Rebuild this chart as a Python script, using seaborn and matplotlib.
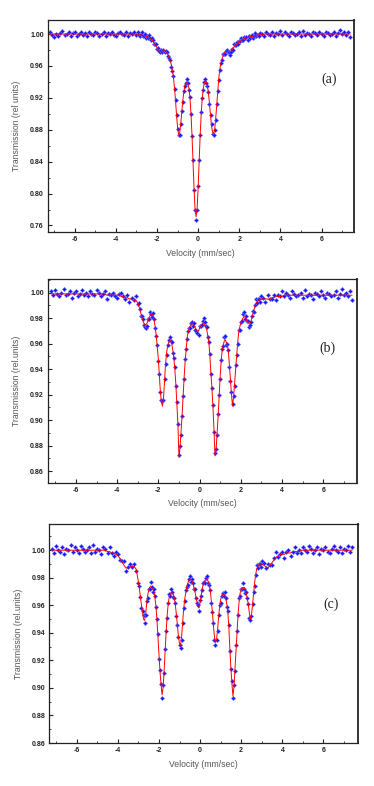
import numpy as np
import pandas as pd
import matplotlib
matplotlib.use("Agg")
import matplotlib.pyplot as plt
import seaborn as sns
from matplotlib.ticker import MultipleLocator, FormatStrFormatter

# velocity channels (mm/s): 0.1 steps in the flat wings, 0.05 steps across the lines
vel = np.concatenate([np.arange(-72, -30) / 10, np.arange(-60, 61) / 20, np.arange(31, 75) / 10])

# transmission values in per-mille (1000 = 1.00)
fit_a = [
    1000, 1000, 1000, 1000, 1000, 1000, 1000, 1000, 1000, 1000,
    1000, 1000, 1000, 1000, 1000, 1000, 1000, 1000, 1000, 1000,
    1000, 1000, 1000, 1000, 1000, 1000, 1000, 1000, 1000, 1000,
    1000, 1000, 1000, 1000, 1000, 1000, 1000, 1000, 1000, 1000,
    1000, 1000,
    1000, 1000, 999, 999, 999, 999, 998, 998, 998, 997,
    997, 996, 996, 995, 994, 993, 991, 989, 987, 985,
    983, 981, 979, 978, 978, 978, 979, 979, 979, 978,
    976, 973, 970, 966, 961, 954, 945, 932, 916, 898,
    882, 874, 876, 887, 902, 916, 927, 935, 939, 940,
    938, 932, 920, 900, 873, 840, 806, 780, 771, 782,
    808, 842, 875, 901, 920, 932, 939, 941, 940, 935,
    926, 913, 898, 885, 877, 875, 880, 893, 910, 928,
    944, 955, 963, 968, 972, 975, 977, 978, 978, 978,
    978, 978, 979, 980, 982, 984, 986, 987, 988, 989,
    990, 991, 992, 993, 994, 994, 995, 995, 996, 996,
    996, 997, 997, 997, 998, 998, 998, 998, 999, 999,
    999,
    999, 1000, 1000, 1000, 1000, 1000, 1000, 1000, 1000, 1000,
    1000, 1000, 1000, 1000, 1000, 1000, 1000, 1000, 1000, 1000,
    1000, 1000, 1000, 1000, 1000, 1000, 1000, 1000, 1000, 1000,
    1000, 1000, 1000, 1000, 1000, 1000, 1000, 1000, 1000, 1000,
    1000, 1000, 1000, 1000,
]
obs_a = [
    1002, 999, 996, 1000, 998, 1001, 1004, 999, 1000, 1002,
    997, 1001, 1002, 998, 1000, 1003, 999, 1001, 998, 1002,
    1000, 999, 1003, 1001, 998, 1000, 1002, 997, 1001, 1000,
    1002, 999, 998, 1001, 1003, 1000, 999, 1002, 998, 1001,
    1000, 1003,
    999, 1002, 999, 997, 1000, 1002, 997, 998, 1000, 995,
    998, 995, 999, 995, 992, 995, 992, 988, 987, 987,
    981, 982, 979, 977, 980, 977, 980, 979, 977, 979,
    978, 972, 970, 967, 959, 954, 947, 931, 917, 898,
    881, 873, 874, 887, 903, 915, 929, 935, 938, 944,
    938, 930, 921, 900, 872, 842, 805, 780, 767, 779,
    810, 842, 874, 902, 920, 930, 940, 943, 939, 935,
    927, 912, 898, 887, 875, 874, 880, 892, 912, 929,
    942, 955, 964, 967, 975, 975, 975, 979, 980, 977,
    978, 974, 978, 981, 980, 987, 986, 986, 990, 987,
    991, 991, 995, 992, 992, 996, 995, 996, 993, 998,
    995, 998, 999, 995, 998, 1001, 997, 999, 999, 997,
    1001,
    1000, 998, 1003, 1000, 999, 1002, 997, 1001, 1000, 1004,
    999, 1002, 1000, 998, 1003, 1001, 999, 1000, 1002, 998,
    1004, 999, 1001, 1000, 997, 1002, 1001, 999, 1003, 1000,
    998, 1002, 1001, 999, 1000, 1003, 998, 1001, 1005, 1000,
    1002, 999, 1003, 996,
]

fit_b = [
    999, 999, 999, 999, 999, 999, 999, 999, 999, 999,
    999, 999, 999, 999, 999, 999, 999, 999, 999, 999,
    999, 999, 999, 999, 999, 999, 999, 998, 998, 998,
    998, 998, 998, 998, 997, 997, 996, 996, 995, 995,
    994, 994,
    992, 990, 987, 984, 981, 978, 976, 975, 975, 976,
    978, 980, 982, 983, 983, 982, 978, 973, 966, 957,
    948, 935, 922, 914, 911, 917, 931, 944, 953, 958,
    961, 963, 962, 960, 955, 949, 940, 928, 913, 897,
    871, 878, 890, 903, 918, 933, 946, 956, 965, 969,
    972, 974, 975, 976, 975, 974, 972, 971, 970, 970,
    972, 974, 975, 976, 976, 975, 973, 971, 966, 961,
    951, 937, 925, 910, 893, 872, 876, 889, 903, 919,
    934, 947, 955, 959, 962, 963, 961, 959, 953, 943,
    931, 920, 911, 918, 929, 940, 951, 961, 969, 973,
    976, 978, 980, 981, 981, 980, 978, 977, 976, 976,
    978, 981, 984, 987, 990, 992, 993, 994, 995, 995,
    995,
    995, 995, 995, 995, 996, 996, 997, 997, 997, 997,
    998, 998, 998, 998, 998, 998, 998, 998, 998, 998,
    998, 998, 998, 998, 998, 998, 998, 998, 998, 998,
    998, 998, 998, 998, 998, 998, 998, 998, 998, 998,
    998, 998, 998, 998,
]
obs_b = [
    1001, 998, 1002, 999, 997, 1000, 1003, 998, 999, 1001,
    996, 1000, 1001, 997, 999, 1002, 998, 1000, 997, 1001,
    999, 998, 1002, 1000, 997, 999, 1001, 995, 999, 998,
    1000, 997, 996, 999, 1000, 997, 995, 998, 993, 996,
    994, 997,
    991, 992, 987, 982, 982, 979, 975, 973, 972, 974,
    979, 979, 985, 983, 981, 984, 979, 972, 966, 959,
    946, 936, 922, 916, 915, 916, 932, 944, 951, 959,
    963, 965, 962, 961, 953, 949, 942, 927, 914, 897,
    873, 880, 888, 903, 919, 932, 948, 956, 964, 970,
    972, 972, 976, 977, 974, 976, 971, 970, 968, 967,
    974, 974, 975, 978, 980, 977, 974, 973, 965, 961,
    952, 936, 925, 912, 891, 874, 877, 888, 905, 920,
    932, 947, 956, 958, 965, 966, 959, 960, 955, 942,
    931, 922, 913, 919, 927, 943, 951, 960, 971, 971,
    977, 978, 983, 985, 979, 982, 978, 978, 973, 975,
    977, 982, 986, 985, 990, 995, 992, 995, 995, 993,
    997,
    996, 993, 998, 995, 995, 998, 994, 998, 997, 1001,
    997, 1000, 998, 996, 1001, 999, 997, 998, 1000, 996,
    1002, 997, 999, 998, 995, 1000, 999, 997, 1001, 998,
    996, 1000, 999, 997, 998, 1001, 996, 999, 1003, 998,
    1000, 997, 1001, 994,
]

fit_c = [
    1000, 1000, 1000, 1000, 1000, 1000, 1000, 1000, 1000, 1000,
    1000, 1000, 1000, 1000, 1000, 1000, 1000, 1000, 1000, 1000,
    1000, 1000, 1000, 1000, 1000, 1000, 1000, 999, 999, 998,
    998, 997, 996, 994, 992, 989, 987, 987, 988, 988,
    988, 986,
    977, 972, 966, 960, 955, 950, 949, 953, 961, 967,
    971, 973, 974, 973, 972, 970, 966, 960, 950, 937,
    923, 912, 903, 895, 900, 912, 927, 941, 953, 961,
    966, 968, 969, 969, 968, 965, 960, 953, 945, 937,
    932, 931, 937, 947, 957, 964, 969, 973, 976, 978,
    979, 979, 978, 976, 973, 970, 966, 962, 959, 958,
    962, 967, 972, 975, 977, 978, 979, 979, 977, 975,
    970, 963, 955, 945, 937, 933, 935, 942, 951, 959,
    964, 967, 968, 968, 967, 965, 961, 955, 944, 928,
    914, 903, 894, 901, 914, 928, 941, 954, 963, 969,
    971, 972, 973, 973, 971, 968, 965, 960, 954, 950,
    953, 960, 968, 976, 982, 986, 988, 989, 990, 990,
    990,
    989, 988, 987, 989, 991, 993, 995, 996, 997, 997,
    997, 998, 998, 998, 999, 999, 999, 999, 1000, 1000,
    1000, 1000, 1000, 1000, 1000, 1000, 1000, 1000, 1000, 1000,
    1000, 1000, 1000, 1000, 1000, 1000, 1000, 1000, 1000, 1000,
    1000, 1000, 1000, 1000,
]
obs_c = [
    1001, 998, 1003, 1000, 999, 1002, 997, 1001, 1000, 1004,
    999, 1002, 1000, 998, 1003, 1001, 999, 1000, 1002, 998,
    1004, 999, 1001, 1000, 997, 1002, 1001, 998, 1002, 998,
    996, 999, 997, 993, 992, 992, 985, 988, 990, 988,
    990, 985,
    976, 974, 966, 958, 956, 953, 947, 953, 963, 965,
    972, 972, 977, 973, 970, 972, 967, 959, 950, 939,
    921, 913, 903, 893, 902, 911, 928, 941, 951, 962,
    968, 967, 972, 970, 966, 965, 962, 952, 946, 937,
    931, 929, 935, 947, 958, 963, 971, 973, 975, 979,
    981, 977, 979, 976, 972, 972, 965, 962, 960, 956,
    964, 967, 971, 976, 977, 976, 980, 981, 976, 975,
    971, 962, 955, 947, 935, 931, 935, 941, 953, 960,
    962, 967, 969, 967, 970, 965, 959, 956, 946, 927,
    914, 905, 893, 902, 912, 931, 941, 953, 965, 967,
    972, 972, 976, 972, 969, 970, 965, 961, 951, 949,
    952, 961, 970, 974, 982, 989, 987, 990, 990, 988,
    992,
    991, 987, 990, 989, 989, 994, 999, 995, 997, 999,
    994, 999, 1000, 996, 999, 1002, 998, 1000, 998, 1002,
    1000, 999, 1003, 1001, 998, 1000, 1002, 997, 1001, 1000,
    1002, 999, 998, 1001, 1003, 1000, 999, 1002, 998, 1001,
    1000, 1003, 999, 1002,
]

panel_tags = ["(a)", "(b)", "(c)"]
ylabels = ["Transmission (rel units)", "Transmission (rel.units)", "Transmission (rel.units)"]

sns.set_style("ticks")
plt.rcParams["font.family"] = ["Liberation Sans", "DejaVu Sans"]

fig = plt.figure(figsize=(3.74, 7.86), dpi=100)

layout = [
    dict(rect=[0.128, 0.705, 0.818, 0.270], xlim=(-7.31, 7.57), ylim=(0.752, 1.018),
         ystep=0.04, tag_xy=(0.92, 0.72)),
    dict(rect=[0.128, 0.386, 0.826, 0.2595], xlim=(-7.36, 7.63), ylim=(0.851, 1.011),
         ystep=0.02, tag_xy=(0.905, 0.66)),
    dict(rect=[0.132, 0.0547, 0.8246, 0.2786], xlim=(-7.33, 7.67), ylim=(0.86, 1.019),
         ystep=0.02, tag_xy=(0.915, 0.635)),
]

for fit, obs, tag, ylab, opts in zip([fit_a, fit_b, fit_c], [obs_a, obs_b, obs_c],
                                     panel_tags, ylabels, layout):
    ax = fig.add_axes(opts["rect"])
    df = pd.DataFrame({"vel": vel, "obs": np.array(obs) / 1000, "fit": np.array(fit) / 1000})

    sns.scatterplot(data=df, x="vel", y="obs", ax=ax, marker="D", s=5,
                    color="#1a1aff", edgecolor="#8080ff", linewidth=0.3, zorder=2)
    sns.lineplot(data=df, x="vel", y="fit", ax=ax, color="red", linewidth=0.7,
                 sort=False, zorder=3)

    ax.set_xlim(*opts["xlim"])
    ax.set_ylim(*opts["ylim"])
    ax.xaxis.set_major_locator(MultipleLocator(2))
    ax.xaxis.set_minor_locator(MultipleLocator(1))
    ax.yaxis.set_major_locator(MultipleLocator(opts["ystep"]))
    ax.yaxis.set_minor_locator(MultipleLocator(opts["ystep"] / 2))
    ax.yaxis.set_major_formatter(FormatStrFormatter("%.2f"))
    ax.xaxis.set_major_formatter(FormatStrFormatter("%d"))

    ax.tick_params(which="major", direction="in", length=3, width=0.8,
                   labelsize=5, pad=3, colors="#222222")
    ax.tick_params(which="minor", direction="in", length=1.5, width=0.6)
    for lbl in ax.get_xticklabels() + ax.get_yticklabels():
        lbl.set_fontweight("bold")

    for side in ["left", "bottom", "top"]:
        ax.spines[side].set_linewidth(0.9)
        ax.spines[side].set_color("#222222")
    ax.spines["right"].set_linewidth(1.4)
    ax.spines["right"].set_color("#333333")

    ax.set_xlabel("Velocity (mm/sec)", fontsize=6.2, color="#555555", labelpad=4)
    ax.set_ylabel(ylab, fontsize=6.2, color="#555555", labelpad=6)
    ax.text(*opts["tag_xy"], tag, transform=ax.transAxes, fontsize=10,
            family="Liberation Serif", ha="center", va="center", color="#222222")

fig.savefig("out.png", dpi=100)
